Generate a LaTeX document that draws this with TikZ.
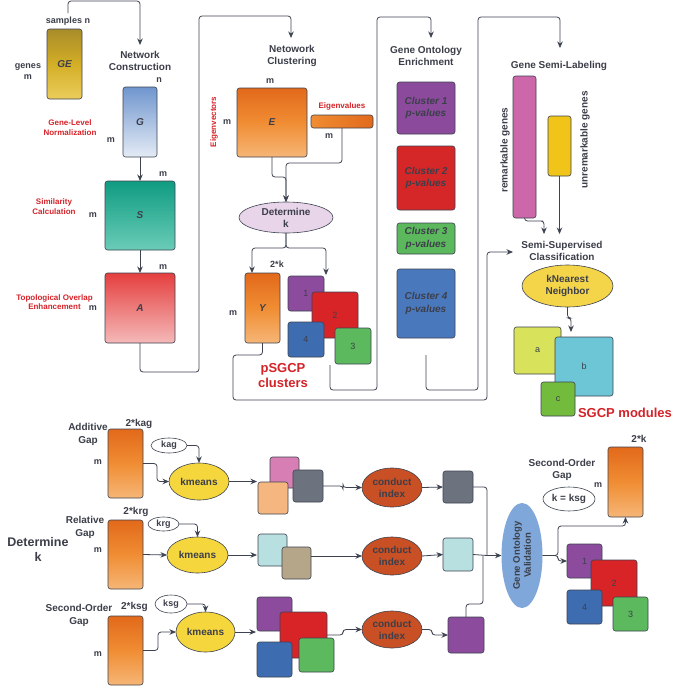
\documentclass[tikz,border=0pt]{standalone}
\usepackage{fontspec}
\setmainfont{Liberation Sans}
\usetikzlibrary{arrows.meta,shapes.geometric}
\definecolor{tx}{HTML}{3C3F4A}
\definecolor{lnc}{HTML}{3D4350}
\definecolor{rdt}{HTML}{D42329}
\definecolor{gd1}{HTML}{A88C2A}
\definecolor{gd2}{HTML}{D3AE26}
\definecolor{gd3}{HTML}{EBCD5C}
\definecolor{bl1}{HTML}{7096CE}
\definecolor{bl2}{HTML}{E4EBF5}
\definecolor{tl1}{HTML}{0F9C81}
\definecolor{tl2}{HTML}{6ACCB8}
\definecolor{rd1}{HTML}{E53F3F}
\definecolor{rd2}{HTML}{F5B9B9}
\definecolor{or1}{HTML}{E2691B}
\definecolor{or2}{HTML}{F08D33}
\definecolor{or3}{HTML}{F6B677}
\definecolor{lav}{HTML}{E8D5EA}
\definecolor{cpu}{HTML}{8C4B9D}
\definecolor{cre}{HTML}{D92427}
\definecolor{cbl}{HTML}{3E6CB0}
\definecolor{cgr}{HTML}{5DB95D}
\definecolor{pk}{HTML}{CC67AA}
\definecolor{yl}{HTML}{F0C419}
\definecolor{yl2}{HTML}{F4D54A}
\definecolor{kmc}{HTML}{F5D63D}
\definecolor{cic}{HTML}{C94F24}
\definecolor{cgy}{HTML}{6C737E}
\definecolor{lcy}{HTML}{B9E0E1}
\definecolor{tanc}{HTML}{B5A68A}
\definecolor{pch}{HTML}{F5B77F}
\definecolor{pkl}{HTML}{D77FB4}
\definecolor{mac}{HTML}{D8E25A}
\definecolor{mbc}{HTML}{6DC6D6}
\definecolor{mcc}{HTML}{73BB3C}
\definecolor{gob}{HTML}{7FA7DA}
\definecolor{pv1}{HTML}{8B4A9C}
\definecolor{pv2}{HTML}{D62728}
\definecolor{pv3}{HTML}{5CB85C}
\definecolor{pv4}{HTML}{4A78BD}
\newcommand\myT{\fontsize{10}{12}\selectfont\bfseries}
\newcommand\myI{\fontsize{10}{12.5}\selectfont\bfseries\itshape}
\newcommand\myG{\fontsize{10}{13}\selectfont\bfseries}
\newcommand\myR{\fontsize{8}{9.5}\selectfont\bfseries}
\newcommand\myD{\fontsize{9}{11}\selectfont\bfseries}
\newcommand\myB{\fontsize{13}{15}\selectfont\bfseries}
\newcommand\myL{\fontsize{12.5}{15}\selectfont\bfseries}
\newcommand\myS{\fontsize{9}{10}\selectfont\bfseries}
\newcommand\myN{\fontsize{9}{10}\selectfont}
\newcommand\myV{\fontsize{9.5}{11}\selectfont\bfseries}
\newcommand\mybox[7]{\node[bx,#6,minimum width={(#4-#2)*1pt},minimum height={(#5-#3)*1pt}] (#1) at ({(#2+#4)/2},{(#3+#5)/2}) {#7};}
\tikzset{
  bx/.style={draw=lnc, line width=0.6pt, rounded corners=2.5pt, inner sep=0pt, outer sep=0pt, text=tx, align=center},
  arr/.style={draw=lnc, line width=0.8pt, rounded corners=3pt, -{Stealth[length=6.5pt,width=5.5pt]}},
  cline/.style={draw=lnc, line width=0.8pt, rounded corners=3pt},
  ttl/.style={text=tx, font=\myT, align=center, inner sep=0pt},
  rlab/.style={text=rdt, font=\myR, align=center, inner sep=0pt},
  dim/.style={text=tx, font=\myD, align=center, inner sep=0pt},
  ell/.style={ellipse, draw=lnc, line width=0.6pt, inner sep=0pt, outer sep=0pt, text=tx, font=\myT, align=center},
  orng/.style={top color=or1, bottom color=or3, middle color=or2},
}
\begin{document}
\begin{tikzpicture}[x=1pt,y=-1pt]
\useasboundingbox (0,0) rectangle (685,686);
\fill[white] (0,0) rectangle (685,686);

% ---------- top left: network construction
\node[dim] (sn) at (68,21) {samples n};
\node[dim] (gn) at (28,71.5) {genes\\m};
\mybox{ge}{47}{29}{82}{99}{top color=gd1,bottom color=gd3,middle color=gd2,font=\myI}{GE}
\node[ttl] (nc) at (140,61) {Network\\Construction};
\node[dim] (gnn) at (159,80) {n};
\node[dim] (gmm) at (111,140) {m};
\mybox{G}{123}{87}{157}{157}{top color=bl1,bottom color=bl2,font=\myI}{G}
\node[rlab] (gln) at (70,127.5) {Gene-Level\\Normalization};
\node[dim] (sm1) at (163,174) {m};
\node[dim] (sm2) at (93,215) {m};
\mybox{S}{105}{181}{175}{250}{top color=tl1,bottom color=tl2,font=\myI}{S}
\node[rlab] (scl) at (54,206.5) {Similarity\\Calculation};
\node[dim] (am1) at (163,267) {m};
\node[dim] (am2) at (93,308) {m};
\mybox{A}{105}{273}{175}{343}{top color=rd1,bottom color=rd2,font=\myI}{A}
\node[rlab] (toe) at (54.5,302) {Topological Overlap\\Enhancement};
\coordinate (c0) at (68,13);
\coordinate (ncin) at (140,45);
\draw[arr] (c0) -- (68,1) -- (140,1) -- (ncin);
\draw[arr] (G.south) -- (S.north);
\draw[arr] (S.south) -- (A.north);
\coordinate (nclin) at (291,38);
\draw[arr] (A.south) -- (140,372) -- (199,372) -- (199,16) -- (291,16) -- (nclin);

% ---------- network clustering
\node[ttl] (ncl) at (292,56) {Netowork\\Clustering};
\node[dim] (em1) at (270,81) {m};
\mybox{E}{237}{88}{307}{157}{orng,font=\myI}{E}
\node[rlab,rotate=90] (evec) at (214,122) {Eigenvectors};
\node[dim] (em2) at (227,122) {m};
\node[rlab] (evl) at (342,106) {Eigenvalues};
\mybox{ev}{311}{115}{373}{128}{left color=or2,right color=or1}{}
\node[dim] (em3) at (329,136) {m};
\node[ell,fill=lav,minimum width=94pt,minimum height=31pt] (det) at (286,217.5) {Determine\\k};
\draw[arr] (E.south) -- (272,177) -| (det.north);
\draw[arr] (ev.south) -- (342,163) -| (det.north);
\node[dim] (yk) at (277,264) {2*k};
\node[dim] (ym) at (233,313) {m};
\mybox{Y}{245}{273}{280}{343}{orng,font=\myI}{Y}
\mybox{k1}{288}{276}{324}{311}{fill=cpu,font=\myN}{1}
\mybox{k2}{312}{292}{358}{338}{fill=cre,font=\myN}{2}
\mybox{k4}{288}{322}{324}{357}{fill=cbl,font=\myN}{4}
\mybox{k3}{335}{328}{371}{364}{fill=cgr,font=\myN}{3}
\node[text=rdt,font=\myB,align=center,inner sep=0pt] (psg) at (283,375.5) {pSGCP\\clusters};
\draw[arr] (det.south) -- (286,248) -| (252,273);
\draw[arr] (det.south) -- (286,248) -| (326,275);
\coordinate (sscin) at (513,252);
\draw[arr] (Y.south) -- (262.5,355) -- (233,355) -- (233,400) -- (487,400) -- (487,252) -- (sscin);
\coordinate (kout) at (330,365);
\coordinate (goein) at (431,38);
\draw[arr] (kout) -- (330,390) -- (377,390) -- (377,17) -- (431,17) -- (goein);

% ---------- gene ontology enrichment
\node[ttl] (goe) at (426,56) {Gene Ontology\\Enrichment};
\mybox{p1}{397}{82}{455}{134}{fill=pv1,font=\myI}{Cluster 1\\p-values}
\mybox{p2}{397}{146}{455}{210}{fill=pv2,font=\myI}{Cluster 2\\p-values}
\mybox{p3}{397}{223}{455}{254}{fill=pv3,font=\myI}{Cluster 3\\p-values}
\mybox{p4}{397}{269}{455}{338}{fill=pv4,font=\myI}{Cluster 4\\p-values}
\coordinate (pout) at (426,355);
\coordinate (gslin) at (560,48);
\draw[arr] (pout) -- (426,390) -- (478,390) -- (478,17) -- (560,17) -- (gslin);

% ---------- semi labeling / classification
\node[ttl] (gsl) at (559,66) {Gene Semi-Labeling};
\mybox{rem}{513}{76}{536}{218}{fill=pk}{}
\node[dim,font=\myT,rotate=90] (remt) at (505,150) {remarkable genes};
\mybox{unr}{548}{116}{571}{176}{fill=yl}{}
\node[dim,font=\myT,rotate=90] (unrt) at (585,140) {unremarkable genes};
\node[ttl] (ssc) at (562,251) {Semi-Supervised\\Classification};
\coordinate (sin1) at (544,234);
\coordinate (sin2) at (559.5,234);
\draw[arr] (rem.south) |- (540,221) -| (sin1);
\draw[arr] (unr.south) -- (sin2);
\node[ell,fill=yl2,minimum width=91pt,minimum height=42pt] (knn) at (567.5,286) {kNearest\\Neighbor};
\coordinate (modin) at (571,332);
\draw[arr] (knn.south) -- (567.5,318) -- (571,318) -- (modin);
\mybox{ma}{514}{327}{561}{374}{fill=mac,font=\myN}{a}
\mybox{mb}{555}{337}{613}{396}{fill=mbc,font=\myN}{b}
\mybox{mc}{541}{382}{575}{416}{fill=mcc,font=\myN}{c}
\node[text=rdt,font=\myB,inner sep=0pt] (sgm) at (625,413) {SGCP modules};

% ---------- bottom: determine k
\node[text=tx,font=\myL,align=center,inner sep=0pt] (dk) at (38,549) {Determine\\k};

% row 1
\node[ttl,font=\myG] (adg) at (88,434.5) {Additive\\Gap};
\node[dim,font=\myT] (k2a) at (139,424) {2*kag};
\node[dim] (m1) at (98,462) {m};
\mybox{b1}{108}{429}{143}{498}{orng}{}
\node[ell,fill=white,font=\myS,minimum width=36pt,minimum height=15pt] (kag) at (169,445.5) {kag};
\node[ell,fill=kmc,minimum width=60pt,minimum height=37pt] (km1) at (199,481.5) {kmeans};
\draw[arr] (kag.east) -| (km1.north);
\draw[arr] (b1.east) -| (157,481.5) -- (km1.west);
\coordinate (g1in) at (257,481.5);
\draw[arr] (km1.east) -- (g1in);
\mybox{g1a}{270}{457}{299}{488}{fill=pkl}{}
\mybox{g1b}{258}{482}{288}{514}{fill=pch}{}
\mybox{g1c}{293}{470}{323}{502}{fill=cgy}{}
\node[ell,fill=cic,minimum width=60pt,minimum height=39pt] (ci1) at (392,487.5) {conduct\\index};
\draw[arr] (g1c.east) -- (343,486) |- (ci1.west);
\mybox{sq1}{443}{471}{473}{503}{fill=cgy}{}
\draw[arr] (ci1.east) -- (sq1.west);
\coordinate (mrg) at (487,555.5);
\draw[cline] (sq1.east) -| (mrg);

% row 2
\node[ttl,font=\myG] (rlg) at (85,527.5) {Relative\\Gap};
\node[dim,font=\myT] (k2r) at (136,512) {2*krg};
\node[dim] (m2) at (98,550) {m};
\mybox{b2}{108}{520}{143}{589}{orng}{}
\node[ell,fill=white,font=\myS,minimum width=31pt,minimum height=14pt] (krg) at (163.5,524) {krg};
\node[ell,fill=kmc,minimum width=61pt,minimum height=36pt] (km2) at (197.5,555) {kmeans};
\draw[arr] (krg.east) -| (km2.north);
\draw[arr] (b2.east) -- (km2.west);
\coordinate (g2in) at (257,555);
\draw[arr] (km2.east) -- (g2in);
\mybox{g2a}{258}{534}{287}{566}{fill=lcy}{}
\mybox{g2b}{282}{547}{311}{579}{fill=tanc}{}
\node[ell,fill=cic,minimum width=60pt,minimum height=38pt] (ci2) at (392,556) {conduct\\index};
\draw[arr] (g2b.east |- ci2.west) -- (ci2.west);
\mybox{sq2}{443}{538}{473}{571}{fill=lcy}{}
\draw[arr] (ci2.east) -- (sq2.west);
\draw[cline] (sq2.east) -- (mrg);

% row 3
\node[ttl,font=\myG] (sog) at (79,615.5) {Second-Order\\Gap};
\node[dim,font=\myT] (k2s) at (134.5,607) {2*ksg};
\node[dim] (m3) at (98,654) {m};
\mybox{b3}{108}{616}{143}{685}{orng}{}
\node[ell,fill=white,font=\myS,minimum width=32pt,minimum height=18pt] (ksg) at (171,604) {ksg};
\node[ell,fill=kmc,minimum width=59pt,minimum height=40pt] (km3) at (205.5,632) {kmeans};
\draw[arr] (ksg.east) -| (km3.north);
\draw[arr] (b3.east) -| (158,632) -- (km3.west);
\coordinate (g3in) at (256,632);
\draw[arr] (km3.east) -- (g3in);
\mybox{g3a}{257}{597}{292}{631}{fill=cpu}{}
\mybox{g3b}{280}{612}{327}{658}{fill=cre}{}
\mybox{g3d}{257}{642}{292}{677}{fill=cbl}{}
\mybox{g3c}{299}{638}{334}{672}{fill=cgr}{}
\node[ell,fill=cic,minimum width=60pt,minimum height=37pt] (ci3) at (392,629.5) {conduct\\index};
\draw[arr] (g3b.east) -- (343,635) |- (ci3.west);
\mybox{sq3}{448}{617}{484}{653}{fill=cpu}{}
\draw[arr] (ci3.east) -- (432,629.5) |- (sq3.west);
\draw[cline] (sq3.north) -- (466,604) -- (483,604) -- (483,556);

% validation
\node[ell,draw=none,fill=gob,rotate=90,minimum width=105pt,minimum height=41pt,font=\myV] (gov) at (522,555.5) {Gene Ontology\\Validation};
\draw[arr] (mrg) -- (gov.north);
\mybox{ob}{608}{447}{643}{517}{orng}{}
\node[dim,font=\myT] (k2) at (639,439) {2*k};
\node[dim] (obm) at (598,485) {m};
\node[ttl] (sog2) at (562,470) {Second-Order\\Gap};
\node[ell,fill=white,minimum width=52pt,minimum height=24pt] (kk) at (569,499) {k = ksg};
\mybox{bp}{567}{544}{602}{578}{fill=cpu,font=\myN}{1}
\mybox{br}{591}{560}{637}{606}{fill=cre,font=\myN}{2}
\mybox{bb}{567}{590}{602}{624}{fill=cbl,font=\myN}{4}
\mybox{bg}{613}{597}{648}{631}{fill=cgr,font=\myN}{3}
\draw[arr] (gov.south) -- (558,555.5) |- (625.5,526) -- (ob.south);
\draw[arr] (gov.south) -- (558,555.5) |- (bp.west);
\end{tikzpicture}
\end{document}
